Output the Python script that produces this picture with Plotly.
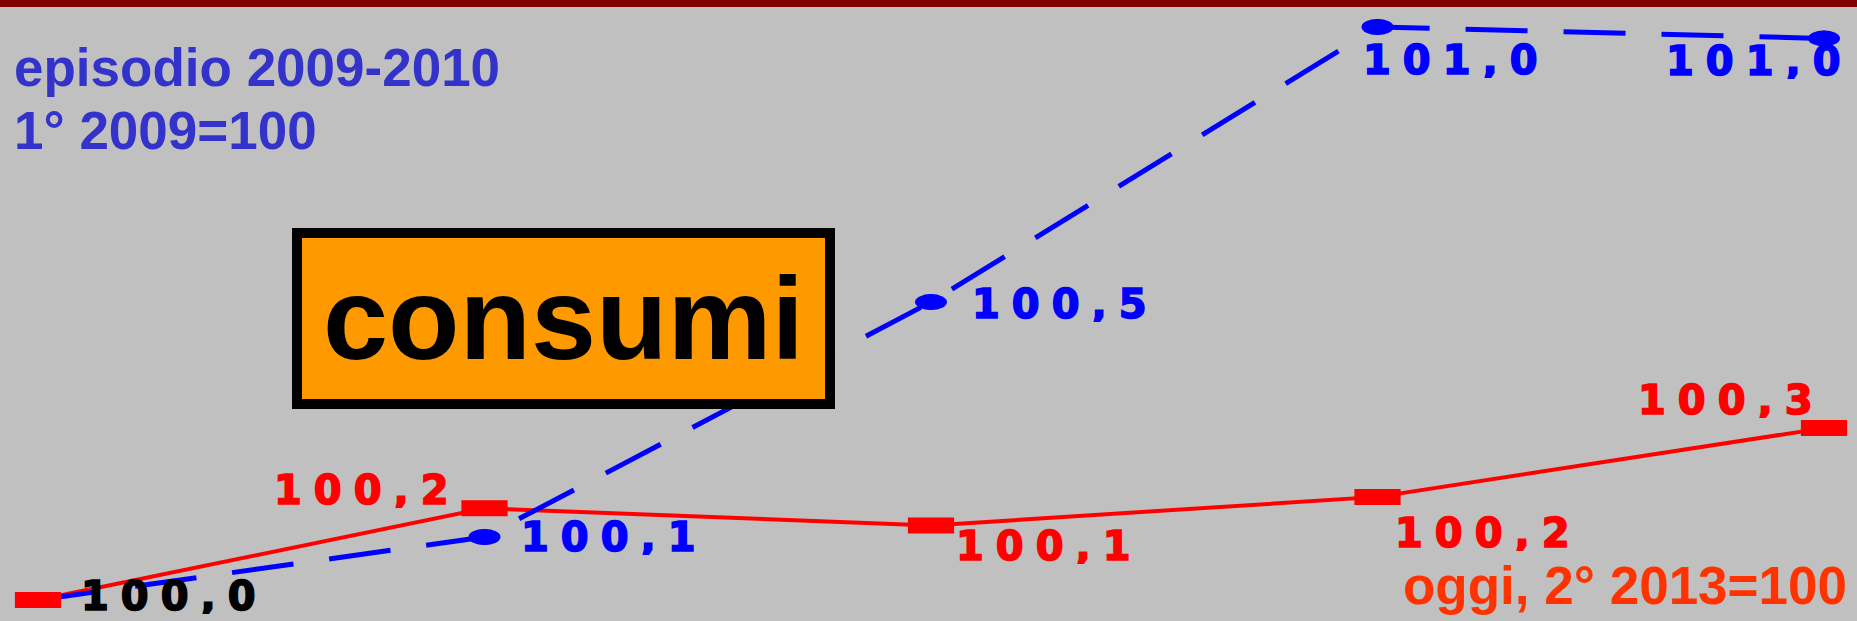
import plotly.graph_objects as go

# quarters from the base quarter (x axis is hidden in the original)
trimestri = ["T0", "T1", "T2", "T3", "T4"]

# index values
oggi = [100.0, 100.16, 100.13, 100.18, 100.30]        # 2° 2013 = 100
episodio = [100.0, 100.11, 100.52, 101.0, 100.98]     # 1° 2009 = 100

RED = "#FF0000"
BLUE = "#0000FF"
BG = "#C0C0C0"
W, H = 1857, 621

# label offsets in pixels (dx right, dy up), None = no label
red_offsets = [(136, 4), (-117, 18), (118, -20), (111, -36), (-93, 28)]
red_label_colors = ["#000000", RED, RED, RED, RED]
blue_offsets = [None, (130, 0), (134, -2), (79, -33), (-65, -23)]

LABEL_FONT = dict(family="DejaVu Sans", size=40, weight="bold")


def fmt(v):
    return f"{v:.1f}".replace(".", ",")


def wide(s, col):
    # the original labels are stretched horizontally and very heavy
    return (
        f'<span style="letter-spacing:12px;stroke:{col};stroke-width:1.6px">'
        f"{s}</span>"
    )


fig = go.Figure()

# red line first so the blue dashes cross on top of it
fig.add_trace(
    go.Scatter(
        x=trimestri,
        y=oggi,
        mode="lines",
        line=dict(color=RED, width=4),
        hoverinfo="skip",
        showlegend=False,
    )
)

fig.add_trace(
    go.Scatter(
        x=trimestri,
        y=episodio,
        mode="lines+markers",
        name="episodio 2009-2010",
        line=dict(color=BLUE, width=5, dash="62px,36px"),
        marker=dict(symbol="circle", size=16, color=BLUE),
        hovertemplate="%{x}: %{y:.2f}<extra>2009-2010</extra>",
        showlegend=False,
    )
)

# red rectangles drawn as thick horizontal line markers
fig.add_trace(
    go.Scatter(
        x=trimestri,
        y=oggi,
        mode="markers",
        name="oggi",
        marker=dict(symbol="line-ew", size=33, line=dict(color=RED, width=16)),
        hovertemplate="%{x}: %{y:.2f}<extra>oggi</extra>",
        showlegend=False,
    )
)

shapes = []
# blue markers are flattened ellipses in the original
for cat, val in zip(trimestri, episodio):
    shapes.append(
        dict(
            type="circle",
            xref="x", yref="y",
            xsizemode="pixel", ysizemode="pixel",
            xanchor=cat, yanchor=val,
            x0=-16, x1=16, y0=-8, y1=8,
            fillcolor=BLUE, line=dict(width=0),
            layer="below",
        )
    )
# dark red strip along the top
shapes.append(
    dict(
        type="rect", xref="paper", yref="paper",
        x0=0, x1=1, y0=1 - 7 / H, y1=1,
        fillcolor="#800000", line=dict(width=0), layer="above",
    )
)

annotations = []
for cat, val, off, col in zip(trimestri, oggi, red_offsets, red_label_colors):
    annotations.append(
        dict(
            x=cat, y=val, text=wide(fmt(val), col), showarrow=False,
            xanchor="center", yanchor="middle", height=36, valign="middle",
            xshift=off[0], yshift=off[1],
            font=dict(LABEL_FONT, color=col),
        )
    )
for cat, val, off in zip(trimestri, episodio, blue_offsets):
    if off is None:
        continue
    annotations.append(
        dict(
            x=cat, y=val, text=wide(fmt(val), BLUE), showarrow=False,
            xanchor="center", yanchor="middle", height=36, valign="middle",
            xshift=off[0], yshift=off[1],
            font=dict(LABEL_FONT, color=BLUE),
        )
    )

TITLE_FONT = dict(family="Liberation Sans", size=53, weight="bold")
annotations += [
    dict(
        xref="paper", yref="paper", x=12 / W, y=1 - 67 / H,
        xanchor="left", yanchor="middle", showarrow=False,
        text="episodio 2009-2010", font=dict(TITLE_FONT, color="#3333CC"),
    ),
    dict(
        xref="paper", yref="paper", x=12 / W, y=1 - 130 / H,
        xanchor="left", yanchor="middle", showarrow=False,
        text="1° 2009=100", font=dict(TITLE_FONT, color="#3333CC"),
    ),
    dict(
        xref="paper", yref="paper", x=1849 / W, y=1 - 585 / H,
        xanchor="right", yanchor="middle", showarrow=False,
        text="oggi, 2° 2013=100", font=dict(TITLE_FONT, color="#FF3300"),
    ),
    dict(
        xref="paper", yref="paper", x=563 / W, y=1 - 318 / H,
        xanchor="center", yanchor="middle", showarrow=False,
        text="consumi",
        font=dict(family="Liberation Sans", size=117, weight="bold", color="black"),
        bgcolor="#FF9900", bordercolor="black", borderwidth=10, borderpad=1,
        width=521, height=159, align="center", valign="middle",
    ),
]

fig.update_layout(
    width=W,
    height=H,
    autosize=False,
    margin=dict(l=0, r=0, t=0, b=0),
    paper_bgcolor=BG,
    plot_bgcolor=BG,
    shapes=shapes,
    annotations=annotations,
    xaxis=dict(
        type="category", range=[-0.0851, 4.0739], visible=False, fixedrange=True
    ),
    yaxis=dict(range=[99.9634, 101.0471], visible=False, fixedrange=True),
    hovermode="closest",
)

# drop the browser's default page margin so the chart fills the window
fig.write_html(
    "out.html",
    config={"displayModeBar": False},
    post_script="document.body.style.margin='0';document.body.style.overflow='hidden';",
)
